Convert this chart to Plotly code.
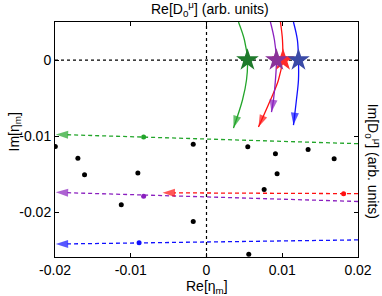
import plotly.graph_objects as go

# Black points (eta_m)
dots_x = [-0.01996, -0.01698, -0.0161, -0.00906, -0.01125, -0.00175, -0.00175,
          0.00545, 0.0091, 0.00932, 0.00761, 0.01341, 0.01685, 0.00558]
dots_y = [-0.01136, -0.01293, -0.0151, -0.01487, -0.01904, -0.01109, -0.02122,
          -0.01141, -0.01233, -0.01496, -0.01701, -0.01175, -0.01298, -0.02553]

# Horizontal trajectories (right -> left); last point is the arrow tip
green_h_x = [0.0200, -0.0199]; green_h_y = [-0.0110, -0.00978]
purple_h_x = [0.0200, -0.0199]; purple_h_y = [-0.0186, -0.0174]
red_h_x = [0.0200, -0.0058]; red_h_y = [-0.01757, -0.01746]
blue_h_x = [0.0200, -0.0199]; blue_h_y = [-0.02365, -0.0242]
hdots = {"green": (-0.0083, -0.01013), "purple": (-0.0083, -0.0179),
         "red": (0.0181, -0.01758), "blue": (-0.0089, -0.02404)}

# D0 trajectories (top -> down), star at crossing of zero; last point is the arrow tip
green_c_x = [0.00422, 0.00501, 0.00541, 0.00528, 0.00475, 0.00356]
green_c_y = [0.0050, 0.00263, 0.0, -0.00263, -0.00526, -0.00895]
purple_c_x = [0.00844, 0.00897, 0.00923, 0.0091, 0.00884, 0.00858]
purple_c_y = [0.0050, 0.00263, 0.0, -0.00263, -0.00526, -0.00684]
red_c_x = [0.00976, 0.01003, 0.01003, 0.0095, 0.00844, 0.00686]
red_c_y = [0.0050, 0.00263, 0.0, -0.00263, -0.00526, -0.00882]
blue_c_x = [0.01148, 0.0120, 0.01214, 0.01214, 0.01187, 0.01148]
blue_c_y = [0.0050, 0.00263, 0.0, -0.00263, -0.00526, -0.00855]
stars_x = {"green": 0.00541, "red": 0.0101, "purple": 0.00923, "blue": 0.01214}

line_col = {"green": "#22a52a", "purple": "#8a1fbf", "red": "#ff1010", "blue": "#1010ff"}
star_col = {"green": "#1f7a2c", "purple": "#8a3399", "red": "#ff2a2a", "blue": "#3a4aa6"}

xticks = [-0.02, -0.01, 0, 0.01, 0.02]
yticks = [-0.02, -0.01, 0]

FONT = "Liberation Sans, Arial, sans-serif"
fig = go.Figure()

fig.add_trace(go.Scatter(x=dots_x, y=dots_y, mode="markers",
                         marker=dict(color="black", size=5), showlegend=False))

for name, (hx, hy) in {"green": (green_h_x, green_h_y), "purple": (purple_h_x, purple_h_y),
                       "red": (red_h_x, red_h_y), "blue": (blue_h_x, blue_h_y)}.items():
    c = line_col[name]
    fig.add_trace(go.Scatter(x=hx, y=hy, mode="lines+markers",
                             line=dict(color=c, width=1.3, dash="4px,3px"),
                             marker=dict(symbol="arrow", size=[0, 13], color=c, angleref="previous",
                                         line=dict(width=0)),
                             showlegend=False))
    dx, dy = hdots[name]
    fig.add_trace(go.Scatter(x=[dx], y=[dy], mode="markers",
                             marker=dict(color=c, size=5), showlegend=False))

curves = {"green": (green_c_x, green_c_y), "red": (red_c_x, red_c_y),
          "purple": (purple_c_x, purple_c_y), "blue": (blue_c_x, blue_c_y)}
for name, (cx, cy) in curves.items():
    c = line_col[name]
    fig.add_trace(go.Scatter(x=cx, y=cy, mode="lines", line=dict(color=c, width=1.3, shape="spline"),
                             showlegend=False))
    fig.add_trace(go.Scatter(x=cx[-2:], y=cy[-2:], mode="markers",
                             marker=dict(symbol="arrow", size=[0, 13], color=c, angleref="previous",
                                         line=dict(width=0)),
                             showlegend=False))
for name in ["green", "red", "purple", "blue"]:
    fig.add_trace(go.Scatter(x=[stars_x[name]], y=[0], mode="markers",
                             marker=dict(symbol="star", size=17, color=star_col[name],
                                         line=dict(width=0)), showlegend=False))

fig.update_layout(
    width=382, height=296, margin=dict(l=55, r=24, t=22, b=39),
    paper_bgcolor="white", plot_bgcolor="white",
    font=dict(family=FONT, size=14, color="black"),
    shapes=[
        dict(type="line", xref="x", yref="paper", x0=0, x1=0, y0=0, y1=1,
             line=dict(color="black", width=1.2, dash="dot"), layer="below"),
        dict(type="line", xref="paper", yref="y", x0=0, x1=1, y0=0, y1=0,
             line=dict(color="black", width=1.2, dash="dot"), layer="below"),
    ],
    annotations=[
        dict(text="Re[D<sub>0</sub><sup>μ</sup>] (arb. units)", xref="paper", yref="paper",
             x=0.51, y=1.0, yshift=13, xanchor="center", yanchor="middle",
             showarrow=False, font=dict(size=14)),
        dict(text="Im[D<sub>0</sub><sup>μ</sup>] (arb. units)", xref="paper", yref="paper",
             x=1.0, xshift=15, y=0.41, textangle=90, xanchor="center", yanchor="middle",
             showarrow=False, font=dict(size=14)),
        dict(text="Re[η<sub>m</sub>]", xref="paper", yref="paper",
             x=0.5, y=0.0, yshift=-19, xanchor="center", yanchor="top",
             showarrow=False, font=dict(size=14)),
        dict(text="Im[η<sub>m</sub>]", xref="paper", yref="paper",
             x=0.0, xshift=-40, y=0.53, textangle=-90, xanchor="center", yanchor="middle",
             showarrow=False, font=dict(size=14)),
    ],
)
fig.update_xaxes(range=[-0.02, 0.02], tickvals=xticks, ticktext=["-0.02", "-0.01", "0", "0.01", "0.02"],
                 ticks="inside", ticklen=4, tickcolor="black", showline=True, linecolor="black",
                 linewidth=1, mirror="ticks", showgrid=False, zeroline=False, automargin=False,
                 tickfont=dict(size=14))
fig.update_yaxes(range=[-0.0259, 0.005], tickvals=yticks, ticktext=["-0.02", "-0.01", "0"],
                 ticks="inside", ticklen=4, tickcolor="black", showline=True, linecolor="black",
                 linewidth=1, mirror="ticks", showgrid=False, zeroline=False, automargin=False,
                 tickfont=dict(size=14))

fig.write_html("out.html", config={"displayModeBar": False},
               post_script="document.body.style.margin='0';")
